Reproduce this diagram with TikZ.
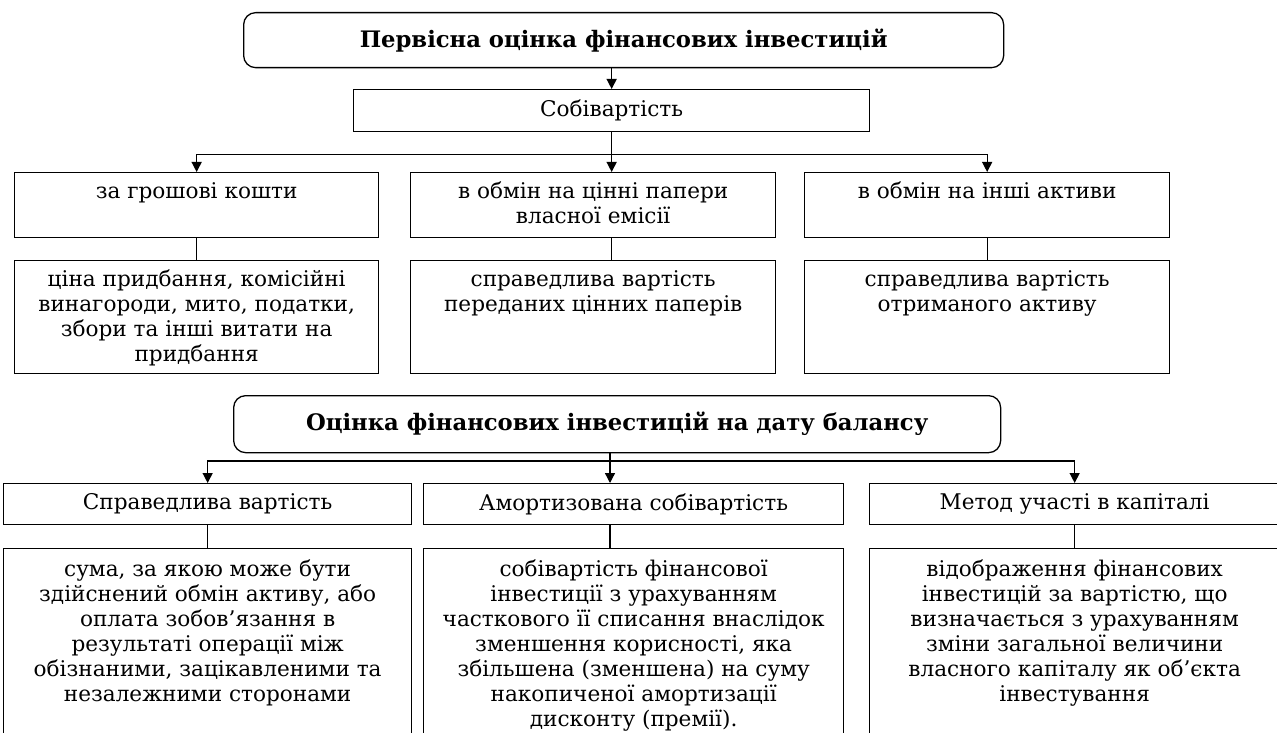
\documentclass[tikz,border=0pt]{standalone}
\usepackage{fontspec}
\setmainfont{DejaVu Serif}
\usetikzlibrary{arrows.meta}
\usetikzlibrary{positioning}

\tikzset{
  box/.style={draw, line width=1.3pt, anchor=north west, inner sep=0pt,
              font=\fontsize{21.6}{25}\selectfont},
  head/.style={box, rounded corners=12pt, font=\fontsize{22.7}{27}\selectfont\bfseries},
  txt/.style={align=center, inner sep=0pt, font=\fontsize{21.6}{25}\selectfont},
  link/.style={line width=1.3pt},
  arr/.style={link, -{Triangle[length=10pt, width=10pt]}}
}

\begin{document}
\begin{tikzpicture}[x=1pt, y=-1pt]
\clip (0, 0) rectangle (1277, 733);
\fill[white] (0, 0) rectangle (1277, 733);

% initial measurement
\node[head, minimum width=760pt, minimum height=55pt] (first) at (243, 12) {Первісна оцінка фінансових інвестицій};
\node[box, minimum width=516pt, minimum height=42pt] (cost) at (353, 89) {Собівартість};

\node[box, minimum width=364pt, minimum height=65pt] (cash) at (14, 172) {};
\node[box, minimum width=365pt, minimum height=65pt] (own) at (410, 172) {};
\node[box, minimum width=365pt, minimum height=65pt] (other) at (804, 172) {};
\node[txt, below=10pt of cash.north] (cashtxt) {за грошові кошти};
\node[txt, below=10pt of own.north] (owntxt) {в обмін на цінні папери\\власної емісії};
\node[txt, below=10pt of other.north] (othertxt) {в обмін на інші активи};

\node[box, minimum width=364pt, minimum height=113pt] (cashnote) at (14, 260) {};
\node[box, minimum width=365pt, minimum height=113pt] (ownnote) at (410, 260) {};
\node[box, minimum width=365pt, minimum height=113pt] (othernote) at (804, 260) {};
\node[txt, below=10pt of cashnote.north] (cashnotetxt) {ціна придбання, комісійні\\винагороди, мито, податки,\\збори та інші витати на\\придбання};
\node[txt, below=10pt of ownnote.north] (ownnotetxt) {справедлива вартість\\переданих цінних паперів};
\node[txt, below=10pt of othernote.north] (othernotetxt) {справедлива вартість\\отриманого активу};

\path (cost.south) ++(0, 22) coordinate (bus1);
\draw[arr] (first.south -| cost.north) -- (cost.north);
\draw[link] (cost.south) -- (bus1);
\draw[arr] (bus1) -- (bus1 |- own.north);
\draw[arr] (bus1) -| (cash.north);
\draw[arr] (bus1) -| (other.north);
\draw[link] (cash.south) -- (cashnote.north);
\draw[link] (own.south -| bus1) -- (ownnote.north -| bus1);
\draw[link] (other.south) -- (othernote.north);

% balance sheet date
\node[head, minimum width=767pt, minimum height=57pt] (second) at (233, 395) {Оцінка фінансових інвестицій на дату балансу};

\node[box, minimum width=408pt, minimum height=41pt] (fair) at (3, 483) {Справедлива вартість};
\node[box, minimum width=420pt, minimum height=41pt] (amort) at (423, 483) {Амортизована собівартість};
\node[box, minimum width=410pt, minimum height=41pt] (equity) at (869, 483) {Метод участі в капіталі};

\node[box, minimum width=408pt, minimum height=220pt] (fairnote) at (3, 548) {};
\node[box, minimum width=420pt, minimum height=220pt] (amortnote) at (423, 548) {};
\node[box, minimum width=410pt, minimum height=220pt] (equitynote) at (869, 548) {};
\node[txt, below=12pt of fairnote.north] (fairnotetxt) {сума, за якою може бути\\здійснений обмін активу, або\\оплата зобов'язання в\\результаті операції між\\обізнаними, зацікавленими та\\незалежними сторонами};
\node[txt, below=12pt of amortnote.north] (amortnotetxt) {собівартість фінансової\\інвестиції з урахуванням\\часткового її списання внаслідок\\зменшення корисності, яка\\збільшена (зменшена) на суму\\накопиченої амортизації\\дисконту (премії).};
\node[txt, below=12pt of equitynote.north] (equitynotetxt) {відображення фінансових\\інвестицій за вартістю, що\\визначається з урахуванням\\зміни загальної величини\\власного капіталу як об'єкта\\інвестування};

\coordinate (bus2) at (610, 461);
\draw[link] (second.south -| bus2) -- (bus2);
\draw[arr] (bus2) -- (bus2 |- amort.north);
\draw[arr] (bus2) -| (fair.north);
\draw[arr] (bus2) -| (equity.north);
\draw[link] (fair.south) -- (fairnote.north);
\draw[link] (amort.south -| bus2) -- (amortnote.north -| bus2);
\draw[link] (equity.south) -- (equitynote.north);
\end{tikzpicture}
\end{document}
